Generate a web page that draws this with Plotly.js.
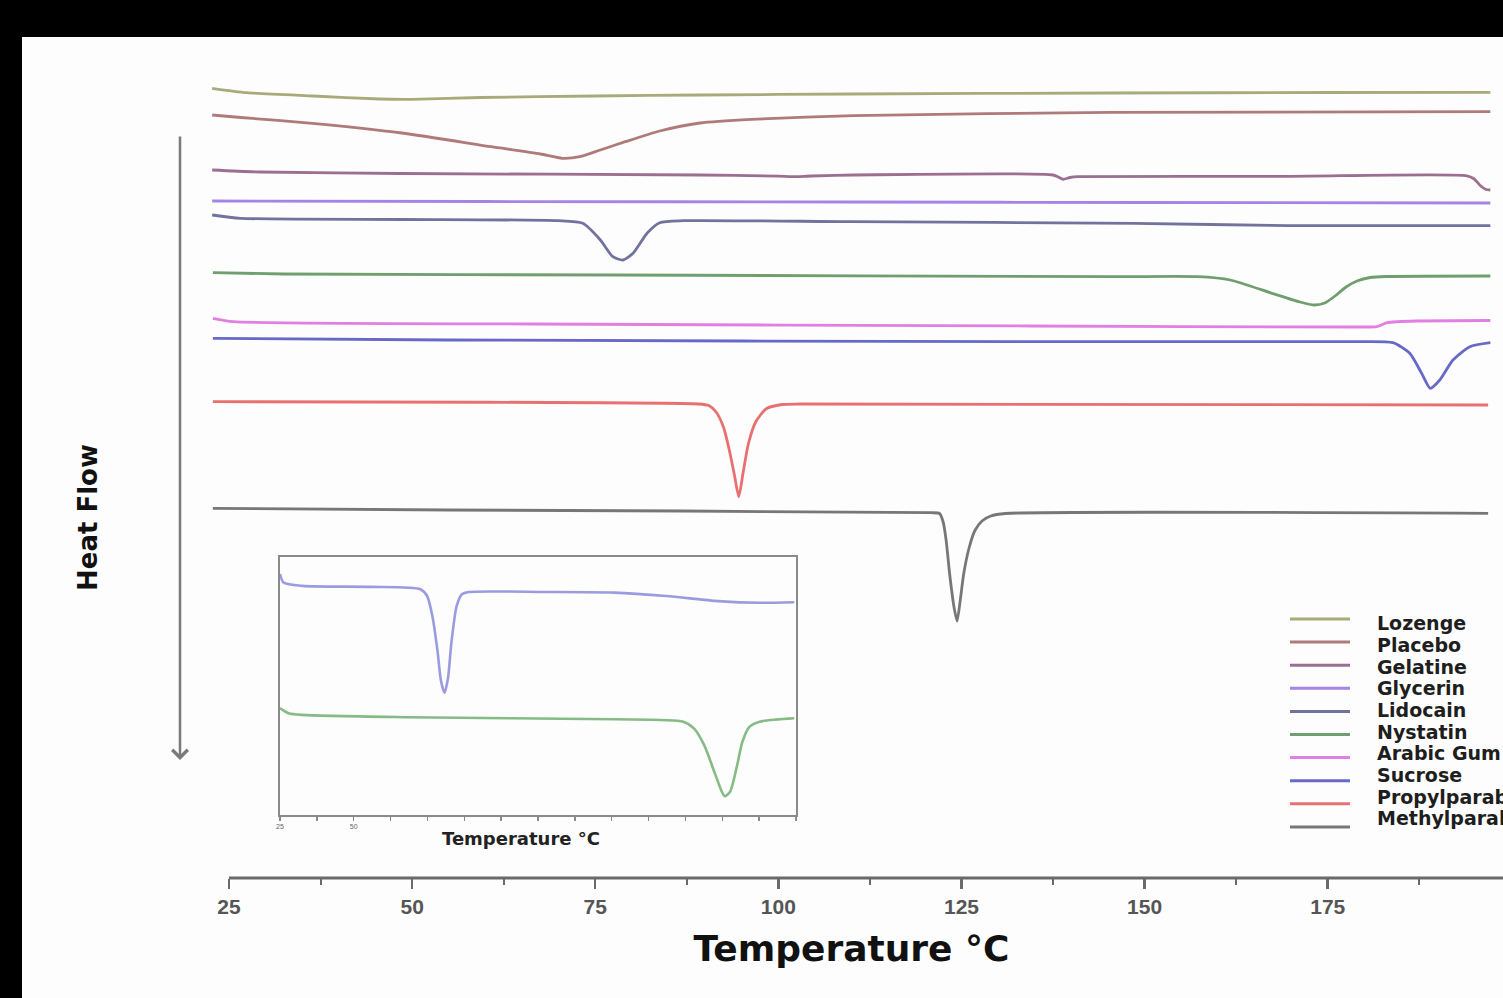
<!DOCTYPE html>
<html>
<head>
<meta charset="utf-8">
<script src="https://cdn.plot.ly/plotly-3.0.1.min.js"></script>
<style>
html,body{margin:0;padding:0;background:#000;width:1503px;height:998px;overflow:hidden;}
#chart{position:absolute;left:22px;top:37px;width:1481px;height:961px;}
</style>
</head>
<body>
<div id="chart"></div>
<script>
// ---- Main DSC curves (temperature in °C, heat flow in arbitrary offset units) ----
var lozengeT   = [22.7, 27.4, 36.5, 45.6, 50.0, 59.3, 75.0, 89.3, 110.0, 145.3, 175.0, 197.2];
var lozengeHF  = [78.97, 78.53, 78.2, 77.9, 77.87, 78.05, 78.2, 78.3, 78.4, 78.5, 78.55, 78.57];

var placeboT   = [22.7, 26.6, 36.4, 48.6, 60.8, 67.5, 70.5, 72.9, 75.7, 79.1, 83.8, 89.3, 96.3, 110.3, 145.3, 197.2];
var placeboHF  = [76.3, 76.05, 75.47, 74.5, 73.13, 72.4, 71.97, 72.13, 72.8, 73.63, 74.7, 75.5, 75.87, 76.23, 76.57, 76.63];

var gelatineT  = [22.7, 29.3, 48.4, 89.3, 100.0, 101.9, 104.5, 110.3, 137.5, 138.2, 138.9, 139.8, 141.0, 170.0, 194.0, 195.0, 195.9, 196.6, 197.2];
var gelatineHF = [70.8, 70.6, 70.45, 70.3, 70.18, 70.13, 70.2, 70.3, 70.3, 70.1, 69.87, 70.05, 70.13, 70.17, 70.22, 69.9, 69.2, 68.85, 68.8];

var glycerinT  = [22.7, 60.0, 110.0, 150.0, 197.2];
var glycerinHF = [67.7, 67.65, 67.6, 67.55, 67.5];

var lidocainT  = [22.7, 26.6, 48.6, 69.9, 73.3, 75.7, 77.4, 78.8, 80.2, 82.1, 83.8, 87.0, 109.8, 148.7, 169.7, 197.2];
var lidocainHF = [66.3, 65.97, 65.85, 65.73, 65.47, 63.8, 62.13, 61.8, 62.5, 64.5, 65.53, 65.73, 65.63, 65.47, 65.23, 65.23];

var nystatinT  = [22.8, 32.4, 77.8, 145.8, 157.2, 161.7, 167.4, 171.2, 173.1, 174.6, 176.0, 177.5, 179.0, 180.8, 183.0, 197.2];
var nystatinHF = [60.53, 60.4, 60.3, 60.13, 60.13, 59.8, 58.47, 57.6, 57.3, 57.5, 58.2, 59.1, 59.7, 60.05, 60.15, 60.2];

var arabicT    = [22.8, 25.6, 66.4, 134.5, 179.8, 181.7, 183.1, 184.5, 187.1, 197.2];
var arabicHF   = [55.97, 55.63, 55.4, 55.2, 55.1, 55.13, 55.53, 55.63, 55.7, 55.75];

var sucroseT   = [22.8, 55.0, 134.5, 178.0, 183.9, 186.2, 187.8, 189.0, 190.3, 192.1, 194.4, 197.2];
var sucroseHF  = [53.97, 53.8, 53.63, 53.63, 53.53, 52.47, 50.5, 48.97, 49.8, 51.8, 53.13, 53.53];

var propylT    = [22.8, 89.1, 90.5, 91.5, 92.5, 93.3, 94.0, 94.6, 95.2, 95.9, 96.9, 98.3, 100.5, 103.0, 196.9];
var propylHF   = [47.63, 47.4, 47.25, 46.6, 45.1, 42.8, 40.3, 38.13, 40.6, 43.4, 45.6, 46.9, 47.35, 47.4, 47.3];

var methylT    = [22.8, 55.0, 120.8, 122.0, 122.5, 122.9, 123.4, 124.0, 124.4, 124.8, 125.3, 126.0, 126.8, 127.8, 129.0, 131.0, 196.9];
var methylHF   = [36.97, 36.8, 36.53, 36.45, 35.6, 33.8, 30.3, 27.0, 25.7, 27.6, 30.4, 32.9, 34.7, 35.7, 36.2, 36.45, 36.47];

// ---- Inset curves ----
var insetBlueT  = [25.0, 26.2, 32.6, 56.1, 72.6, 74.9, 76.7, 78.4, 79.6, 80.8, 82.0, 83.1, 84.9, 86.7, 89.0, 114.9, 138.3, 156.0, 173.6, 187.7, 199.4];
var insetBlueHF = [24.1, 23.25, 22.91, 22.81, 22.57, 21.9, 19.86, 16.46, 13.41, 12.22, 13.74, 17.14, 20.88, 22.07, 22.3, 22.3, 22.24, 21.9, 21.39, 21.22, 21.28];

var insetGreenT  = [25.0, 27.9, 32.6, 67.9, 103.1, 138.3, 161.8, 165.4, 168.9, 172.4, 174.8, 175.9, 177.7, 180.0, 181.8, 184.2, 187.7, 199.4];
var insetGreenHF = [10.69, 10.18, 10.01, 9.78, 9.67, 9.57, 9.33, 8.66, 6.96, 4.24, 2.37, 1.87, 2.37, 4.92, 7.3, 8.82, 9.33, 9.67];

// ---- Names, colours, ticks ----
var seriesNames  = ['Lozenge', 'Placebo', 'Gelatine', 'Glycerin', 'Lidocain', 'Nystatin', 'Arabic Gum', 'Sucrose', 'Propylparaben', 'Methylparaben'];
var seriesColors = ['#a7ab79', '#b07a7a', '#9c6f90', '#a584e6', '#72729e', '#6f9f6f', '#e27fe2', '#6868c8', '#e87070', '#777777'];
var seriesT  = [lozengeT, placeboT, gelatineT, glycerinT, lidocainT, nystatinT, arabicT, sucroseT, propylT, methylT];
var seriesHF = [lozengeHF, placeboHF, gelatineHF, glycerinHF, lidocainHF, nystatinHF, arabicHF, sucroseHF, propylHF, methylHF];

var mainTickVals  = [25, 50, 75, 100, 125, 150, 175, 200];
var insetTickVals = [25, 37.5, 50, 62.5, 75, 87.5, 100, 112.5, 125, 137.5, 150, 162.5, 175, 187.5, 200];
var insetTickText = ['25', '', '50', '', '', '', '', '', '', '', '', '', '', '', ''];

// ---- Build traces ----
var traces = [];
for (var i = 0; i < seriesNames.length; i++) {
  traces.push({
    type: 'scatter', mode: 'lines', name: seriesNames[i],
    x: seriesT[i], y: seriesHF[i], xaxis: 'x', yaxis: 'y',
    line: {color: seriesColors[i], width: 2.8, shape: 'spline', smoothing: 0.6},
    showlegend: false, hoverinfo: 'x+y+name'
  });
}
traces.push({type: 'scatter', mode: 'lines', name: 'Lidocain (inset)', x: insetBlueT, y: insetBlueHF,
  xaxis: 'x2', yaxis: 'y2', line: {color: '#9b9be0', width: 2.6, shape: 'spline', smoothing: 0.7}, showlegend: false});
traces.push({type: 'scatter', mode: 'lines', name: 'Nystatin (inset)', x: insetGreenT, y: insetGreenHF,
  xaxis: 'x2', yaxis: 'y2', line: {color: '#86bb86', width: 2.6, shape: 'spline', smoothing: 0.7}, showlegend: false});

// ---- Geometry helpers (figure is 1481x961, plot area 1303x818) ----
var PL = 178, PT = 23, PW = 1303, PH = 818;
function px2paperX(px) { return (px - 22 - PL) / PW; }
function px2paperY(py) { return (PT + 37 + PH - py) / PH; }

var annotations = [];
var shapes = [];

// Custom axis line starting at 25 °C
shapes.push({type: 'line', xref: 'x', yref: 'paper', x0: 25, x1: 199, y0: 0, y1: 0,
  line: {color: '#6a6a6a', width: 3}});

// Heat Flow label & arrow
annotations.push({xref: 'paper', yref: 'paper', x: px2paperX(88), y: px2paperY(518),
  text: 'Heat Flow', showarrow: false, textangle: -90, xanchor: 'center', yanchor: 'middle',
  font: {family: 'DejaVu Sans', size: 26, weight: 700, color: '#111'}});
annotations.push({xref: 'paper', yref: 'paper', x: px2paperX(180), y: px2paperY(760),
  text: '', showarrow: true, ax: 0, ay: -625, arrowhead: 4, arrowsize: 1.2, arrowwidth: 2.5, arrowcolor: '#7a7a7a'});

// Inset title
annotations.push({xref: 'paper', yref: 'paper', x: px2paperX(521), y: px2paperY(838),
  text: 'Temperature °C', showarrow: false, xanchor: 'center', yanchor: 'middle',
  font: {family: 'DejaVu Sans', size: 18, weight: 700, color: '#222'}});

// Legend (lines + names)
for (var k = 0; k < seriesNames.length; k++) {
  var ly = px2paperY(619 + k * 23.1);
  shapes.push({type: 'line', xref: 'paper', yref: 'paper', x0: px2paperX(1290), x1: px2paperX(1350), y0: ly, y1: ly,
    line: {color: seriesColors[k], width: 3}});
  annotations.push({xref: 'paper', yref: 'paper', x: px2paperX(1375), y: px2paperY(623.3 + k * 21.67),
    text: seriesNames[k], showarrow: false, xanchor: 'left', yanchor: 'middle',
    font: {family: 'DejaVu Sans', size: 19, weight: 700, color: '#1e1e1e'}});
}

var layout = {
  width: 1481, height: 961,
  margin: {l: PL, r: 0, t: PT, b: 961 - PT - PH, autoexpand: false},
  paper_bgcolor: '#fdfdfd', plot_bgcolor: '#fdfdfd',
  showlegend: false,
  xaxis: {
    domain: [0, 1], anchor: 'y', range: [21.04, 198.93],
    showline: false, showgrid: false, zeroline: false,
    tickmode: 'array', tickvals: mainTickVals,
    ticks: 'outside', ticklen: 10, tickwidth: 2.5, tickcolor: '#6a6a6a',
    minor: {tickmode: 'linear', tick0: 25, dtick: 12.5, ticks: 'outside', ticklen: 6, tickwidth: 2, tickcolor: '#6a6a6a', showgrid: false},
    tickfont: {family: 'Liberation Sans', size: 21, weight: 700, color: '#555'},
    title: {text: 'Temperature °C', standoff: 18, font: {family: 'DejaVu Sans', size: 36, weight: 700, color: '#111'}},
    automargin: false
  },
  yaxis: {domain: [0, 1], anchor: 'x', range: [0, 81.8], visible: false, fixedrange: true},
  xaxis2: {
    domain: [px2paperX(280), px2paperX(796)], anchor: 'y2', range: [25, 200],
    showline: true, mirror: true, linecolor: '#8a8a8a', linewidth: 2,
    showgrid: false, zeroline: false,
    tickmode: 'array', tickvals: insetTickVals, ticktext: insetTickText,
    ticks: 'outside', ticklen: 4, tickwidth: 1.5, tickcolor: '#8a8a8a',
    tickfont: {family: 'Liberation Sans', size: 7, color: '#666'}
  },
  yaxis2: {
    domain: [px2paperY(815), px2paperY(557)], anchor: 'x2', range: [0, 25.8],
    showline: true, mirror: true, linecolor: '#8a8a8a', linewidth: 2,
    showgrid: false, zeroline: false, showticklabels: false, ticks: ''
  },
  shapes: shapes,
  annotations: annotations
};

Plotly.newPlot('chart', traces, layout, {displayModeBar: false, staticPlot: true});
</script>
</body>
</html>
